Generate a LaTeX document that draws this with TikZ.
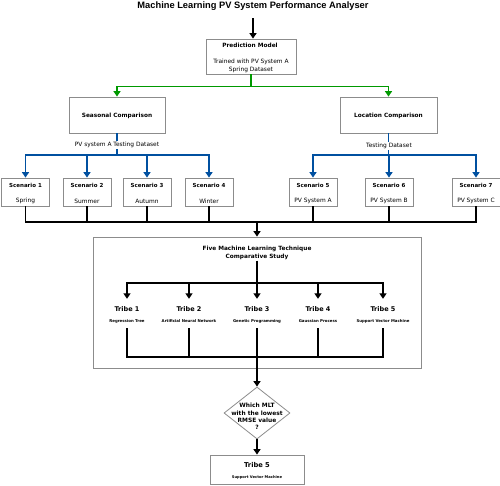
\documentclass[tikz,border=0pt]{standalone}
\usepackage{fontspec}
\setmainfont{DejaVu Sans}
\newfontfamily\titlefont{Liberation Sans}
\usetikzlibrary{arrows.meta,shapes.geometric}
\definecolor{gline}{RGB}{0,153,0}
\definecolor{bline}{RGB}{0,80,160}
\definecolor{boxgray}{RGB}{140,140,140}
\newcommand{\myfs}[2]{\fontsize{#1}{#2}\selectfont}
\begin{document}
\begin{tikzpicture}[x=1pt,y=-1pt,
  box/.style={draw=boxgray,line width=0.8pt,rectangle,inner sep=0pt},
  conn/.style={line width=1.8pt},
  arr/.style={conn,-{Triangle[length=5.5pt,width=7pt]}},
  reg/.style={inner sep=0.5pt,font=\myfs{5.9}{8}},
  boldm/.style={inner sep=0.5pt,font=\bfseries\myfs{5.8}{8}},
  bolds/.style={inner sep=0.5pt,font=\bfseries\myfs{5.5}{7}},
  tribe/.style={inner sep=0.5pt,font=\bfseries\myfs{6.5}{8}},
  tsub/.style={inner sep=0.5pt,font=\bfseries\myfs{3.9}{5}},
  frame/.style={inner sep=0pt,minimum width=40pt,minimum height=29pt}
]
\useasboundingbox (0,0) rectangle (500,485);

% title
\node[font=\titlefont\bfseries\myfs{9.3}{11}] (title) at (253,6) {Machine Learning PV System Performance Analyser};
\coordinate (start) at (253,18);

% prediction model
\node[box,minimum width=90pt,minimum height=35pt] (pm) at (251,56.5) {};
\node[boldm] (pmt) at (250,45) {Prediction Model};
\node[reg,align=center] (pms) at (251,66) {Trained with PV System A\\Spring Dataset};
\draw[arr] (start) -- (start |- pm.north);

% comparisons
\node[box,minimum width=96pt,minimum height=36pt] (sea) at (117,115) {};
\node[boldm] (seat) at (117,115.5) {Seasonal Comparison};
\node[box,minimum width=97pt,minimum height=36pt] (loc) at (388.5,115) {};
\node[boldm] (loct) at (388.5,115.5) {Location Comparison};
\draw[arr,gline] (pm.south) -- ++(0,12) -| (sea.north);
\draw[arr,gline] (pm.south) -- ++(0,12) -| (loc.north);

% scenarios
\foreach \n/\x/\s in {1/25.5/Spring,2/87/Summer,3/147/Autumn,4/209/Winter,5/313/PV System A,6/389/PV System B,7/476/PV System C}{
  \node[box,minimum width=48pt,minimum height=28pt] (s\n) at (\x,192) {};
  \node[bolds] (s\n t) at (\x,185.5) {Scenario \n};
  \node[reg] (s\n s) at (\x,201) {\s};
}

% blue branches
\coordinate (sj) at (117,155);
\draw[conn,bline] (sea.south) -- (sj);
\foreach \n in {1,2,3,4}{\draw[arr,bline] (sj) -| (s\n.north);}
\coordinate (lj) at (388.5,155);
\draw[conn,bline] (loc.south) -- (lj);
\foreach \n in {5,6,7}{\draw[arr,bline] (lj) -| (s\n.north);}
\node[reg,fill=white,inner sep=1.5pt] (sealab) at (117,145) {PV system A Testing Dataset};
\node[reg,fill=white,inner sep=1.5pt] (loclab) at (389,146) {Testing Dataset};

% big box
\node[box,minimum width=328pt,minimum height=131pt] (big) at (257,302.5) {};
\node[boldm,align=center] (bigt) at (257,253) {Five Machine Learning Technique\\Comparative Study};

% merge of scenarios
\coordinate (mj) at (257,222);
\draw[conn] (s1.south) |- (mj) -| (s7.south);
\foreach \n in {2,3,4,5,6}{\draw[conn] (s\n.south) -- (s\n.south |- mj);}
\draw[arr] (mj) -- (big.north);

% tribes
\coordinate (tj) at (257,283);
\foreach \n/\x/\s in {1/127/Regression Tree,2/189/Artificial Neural Network,3/257/Genetic Programming,4/318/Gaussian Process,5/383/Support Vector Machine}{
  \node[frame] (t\n) at (\x,313.5) {};
  \node[tribe] (t\n t) at (\x,309) {Tribe \n};
  \node[tsub] (t\n s) at (\x,321) {\s};
}
\draw[conn] (bigt.south) -- (tj);
\foreach \n in {1,2,3,4,5}{\draw[arr] (tj) -| (t\n.north);}
\coordinate (bj) at (257,357);
\draw[conn] (t1.south) |- (bj) -| (t5.south);
\draw[conn] (t2.south) -- (t2.south |- bj);
\draw[conn] (t4.south) -- (t4.south |- bj);

% decision
\node[diamond,draw=boxgray,line width=0.8pt,minimum width=66pt,minimum height=52pt,inner sep=0pt] (dia) at (257,413) {};
\node[boldm,align=center,font=\bfseries\myfs{5.9}{7.3}] (diat) at (257,416.5) {Which MLT\\with the lowest\\RMSE value\\?};
\draw[arr] (t3.south) -- (dia.north);

% final
\node[box,minimum width=94pt,minimum height=29pt] (fin) at (257,469.5) {};
\node[tribe,font=\bfseries\myfs{6.7}{8}] (fint) at (257,465) {Tribe 5};
\node[tsub,font=\bfseries\myfs{3.7}{5}] (fins) at (257,477) {Support Vector Machine};
\draw[arr] (dia.south) -- (fin.north);
\end{tikzpicture}
\end{document}
